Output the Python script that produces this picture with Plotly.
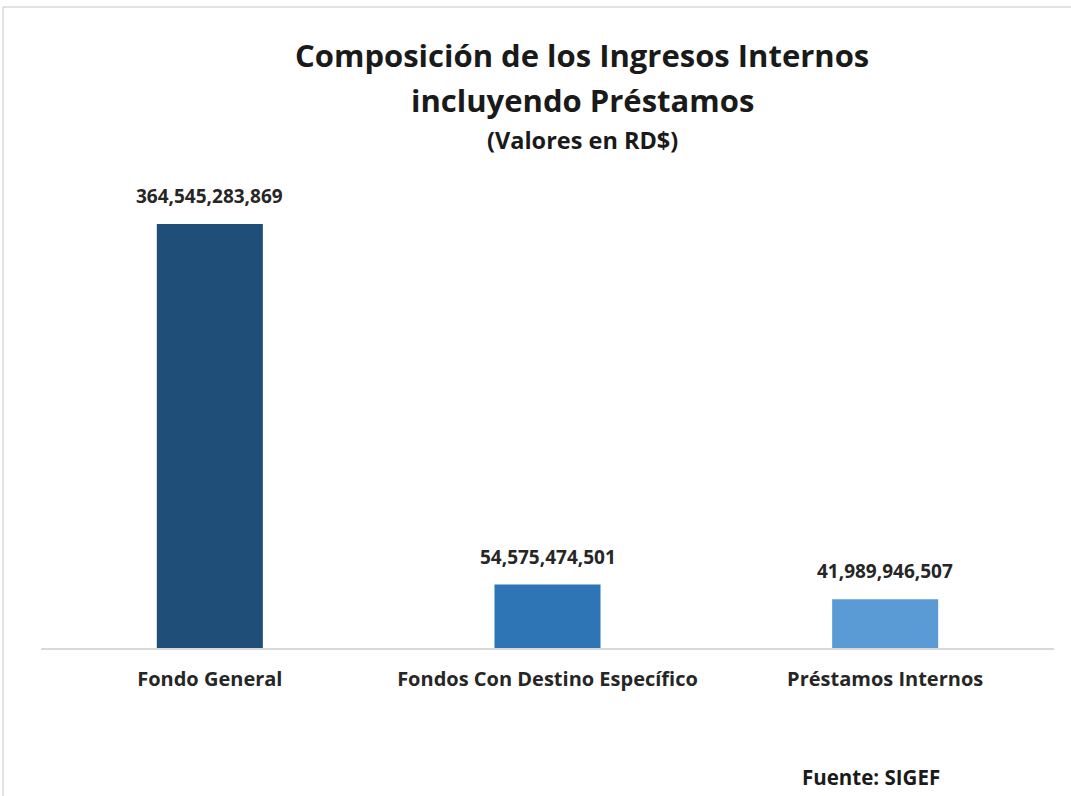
import plotly.graph_objects as go

categories = ["Fondo General", "Fondos Con Destino Específico", "Préstamos Internos"]
values = [364545283869, 54575474501, 41989946507]
bar_colors = ["#1f4e79", "#2e75b6", "#5b9bd5"]

W, H = 1071, 796
# plot area in pixel coordinates
X0, X1, Y0, Y1 = 41, 1054, 160, 648
L, R, T, B = X0, W - X1, Y0, H - Y1
plot_h = Y1 - Y0
plot_w = X1 - X0

def py(ypx):
    return (Y1 - ypx) / plot_h

def px(xpx):
    return (xpx - X0) / plot_w

FONT = "Open Sans"
DARK = "#262626"
TITLE = "#1a1a1a"

fig = go.Figure()
fig.add_trace(go.Bar(
    x=categories, y=values, marker_color=bar_colors, marker_line_width=0,
    width=0.314, hoverinfo="skip"
))

annotations = []
for c, v in zip(categories, values):
    annotations.append(dict(
        x=c, y=v, xref="x", yref="y", text=f"<b>{v:,}</b>", showarrow=False,
        yanchor="bottom", yshift=13, font=dict(family=FONT, size=19, color=DARK)
    ))

annotations += [
    dict(x=px(582), y=py(55), xref="paper", yref="paper", text="<b>Composición de los Ingresos Internos</b>",
         showarrow=False, xanchor="center", yanchor="middle", font=dict(family=FONT, size=31, color=TITLE)),
    dict(x=px(582), y=py(100), xref="paper", yref="paper", text="<b>incluyendo Préstamos</b>",
         showarrow=False, xanchor="center", yanchor="middle", font=dict(family=FONT, size=31, color=TITLE)),
    dict(x=px(582), y=py(140), xref="paper", yref="paper", text="<b>(Valores en RD$)</b>",
         showarrow=False, xanchor="center", yanchor="middle", font=dict(family=FONT, size=23.5, color=TITLE)),
    dict(x=px(871), y=py(777), xref="paper", yref="paper", text="<b>Fuente: SIGEF</b>",
         showarrow=False, xanchor="center", yanchor="middle", font=dict(family=FONT, size=20.5, color=TITLE)),
]

shapes = [
    dict(type="line", xref="paper", yref="paper", x0=px(3), x1=px(W + 5), y0=py(7), y1=py(7),
         line=dict(color="#d9d9d9", width=1.5)),
    dict(type="line", xref="paper", yref="paper", x0=px(3), x1=px(3), y0=py(7), y1=py(H + 5),
         line=dict(color="#d9d9d9", width=1.5)),
]

fig.update_layout(
    width=W, height=H,
    margin=dict(l=L, r=R, t=T, b=B, pad=0),
    plot_bgcolor="white", paper_bgcolor="white",
    showlegend=False,
    annotations=annotations, shapes=shapes,
    xaxis=dict(showline=True, linecolor="#d9d9d9", linewidth=2, showgrid=False, ticks="",
               tickfont=dict(family=FONT, size=20, color=DARK, weight="bold"), ticklabelstandoff=12),
    yaxis=dict(visible=False, range=[0, plot_h / 1.163 * 1e9], showgrid=False, zeroline=False),
)

fig.write_html(
    "out.html",
    config={"displayModeBar": False},
    post_script="document.body.style.margin='0';document.body.style.overflow='hidden';",
)
